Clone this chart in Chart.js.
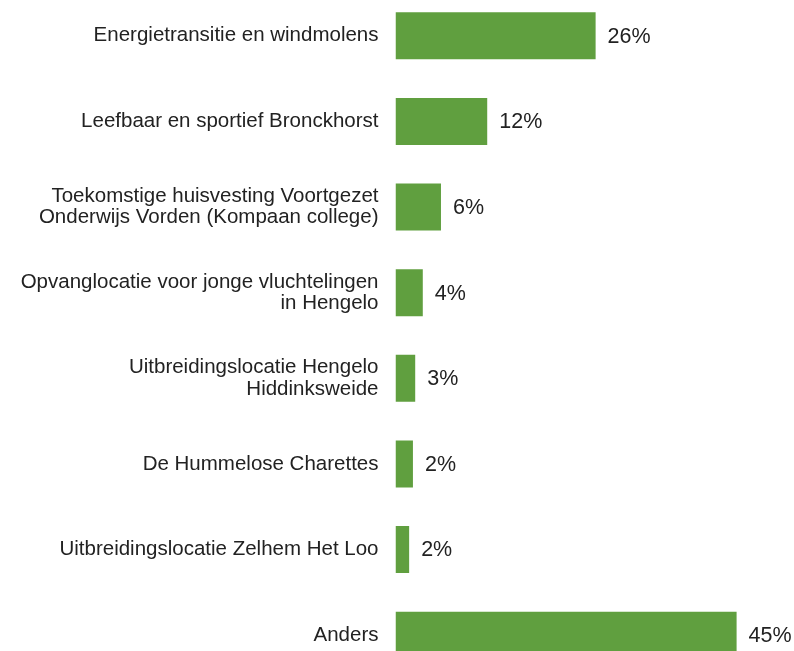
<!DOCTYPE html>
<html>
<head>
<meta charset="utf-8">
<script src="https://cdn.jsdelivr.net/npm/chart.js@4"></script>
<style>
  html, body { margin: 0; padding: 0; background: #fff; overflow: hidden; }
  #chart { position: absolute; left: 0; top: -7px; }
</style>
</head>
<body>
<canvas id="chart" width="794" height="685"></canvas>
<script>
const categories = [
  "Energietransitie en windmolens",
  "Leefbaar en sportief Bronckhorst",
  ["Toekomstige huisvesting Voortgezet", "Onderwijs Vorden (Kompaan college)"],
  ["Opvanglocatie voor jonge vluchtelingen", "in Hengelo"],
  ["Uitbreidingslocatie Hengelo", "Hiddinksweide"],
  "De Hummelose Charettes",
  "Uitbreidingslocatie Zelhem Het Loo",
  "Anders",
];
const shares = [26.4, 12.1, 6.0, 3.6, 2.6, 2.3, 1.8, 45.0];

const FONT = "'Liberation Sans', Arial, Helvetica, sans-serif";

// percentage text right of each bar
const valueLabels = {
  id: "valueLabels",
  afterDatasetsDraw(chart) {
    const { ctx } = chart;
    const meta = chart.getDatasetMeta(0);
    ctx.save();
    ctx.font = "21.5px " + FONT;
    ctx.fillStyle = "#222";
    ctx.textBaseline = "middle";
    ctx.textAlign = "left";
    meta.data.forEach((bar, i) => {
      ctx.fillText(Math.round(shares[i]) + "%", bar.x + 12, bar.y + 1);
    });
    ctx.restore();
  },
};

new Chart(document.getElementById("chart"), {
  type: "bar",
  data: {
    labels: categories,
    datasets: [
      {
        data: shares,
        backgroundColor: "#609f3f",
        borderWidth: 0,
        barPercentage: 0.55,
        categoryPercentage: 1,
      },
    ],
  },
  options: {
    indexAxis: "y",
    responsive: false,
    animation: false,
    layout: { padding: { left: 0, right: 19.5, top: 0, bottom: 0 } },
    plugins: {
      legend: { display: false },
      tooltip: { enabled: false },
    },
    scales: {
      x: {
        display: false,
        min: 0,
        max: 50,
      },
      y: {
        border: { display: false },
        grid: { display: false, drawTicks: false },
        ticks: {
          color: "#222",
          padding: 17,
          font: { family: FONT, size: 20.5, lineHeight: 1.03 },
        },
        afterFit(scale) {
          scale.width = 395.5;
          scale.paddingTop = 0;
          scale.paddingBottom = 0;
        },
      },
    },
  },
  plugins: [valueLabels],
});
</script>
</body>
</html>
